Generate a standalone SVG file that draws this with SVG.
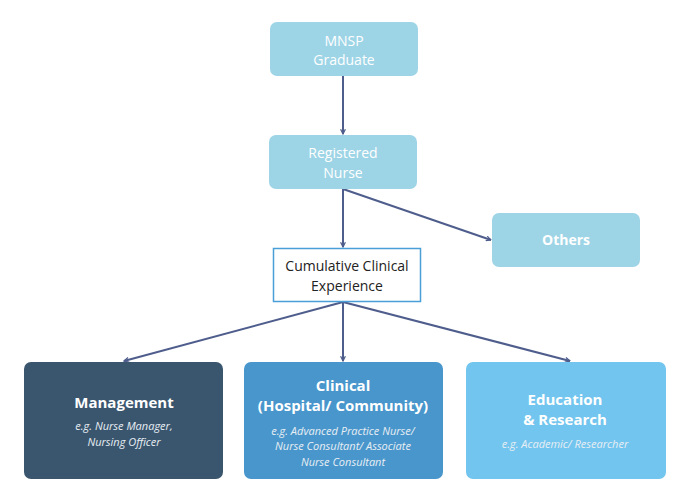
<svg xmlns="http://www.w3.org/2000/svg" width="689" height="500" viewBox="0 0 689 500">
<style>
text{font-family:"Open Sans","Noto Sans",sans-serif;text-anchor:middle}
.lt{fill:#9dd4e6}
.wt{fill:#ffffff;font-size:14px}
.b{font-weight:bold}
.h{fill:#ffffff;font-size:15px;font-weight:bold}
.i{fill:#e8eef4;font-size:11px;font-style:italic}
.c{stroke:#4e5d8c;stroke-width:2;fill:none;marker-end:url(#ah)}
</style>
<defs>
<marker id="ah" viewBox="0 0 10 10" refX="9" refY="5" markerWidth="6" markerHeight="6" markerUnits="userSpaceOnUse" orient="auto">
<path d="M1,1 L9,5 L1,9" fill="none" stroke="#4e5d8c" stroke-width="2"/>
</marker>
</defs>
<rect width="689" height="500" fill="#ffffff"/>
<g id="connectors">
<line class="c" x1="343" y1="76" x2="343" y2="134"/>
<line class="c" x1="343" y1="189" x2="343" y2="247"/>
<line class="c" x1="343" y1="189" x2="491" y2="240"/>
<line class="c" x1="343" y1="302" x2="124" y2="361"/>
<line class="c" x1="343" y1="302" x2="343" y2="361"/>
<line class="c" x1="343" y1="302" x2="570" y2="361"/>
</g>
<g id="mnsp">
<rect class="lt" x="270" y="22" width="148" height="54" rx="7"/>
<text class="wt" x="344" y="46">MNSP</text>
<text class="wt" x="344" y="65">Graduate</text>
</g>
<g id="rn">
<rect class="lt" x="269" y="135" width="148" height="54" rx="7"/>
<text class="wt" x="343" y="158">Registered</text>
<text class="wt" x="343" y="178">Nurse</text>
</g>
<g id="others">
<rect class="lt" x="492" y="213" width="148" height="54" rx="7"/>
<text class="wt b" x="566" y="245">Others</text>
</g>
<g id="cumulative">
<rect x="273.5" y="248.5" width="147" height="53" fill="#ffffff" stroke="#4a9fd6" stroke-width="1.5"/>
<text x="347" y="271" font-size="14" fill="#222222">Cumulative Clinical</text>
<text x="347" y="291" font-size="14" fill="#222222">Experience</text>
</g>
<g id="management">
<rect x="24" y="362" width="199" height="117" rx="7" fill="#3a566e"/>
<text class="h" x="124" y="408">Management</text>
<text class="i" x="124" y="430">e.g. Nurse Manager,</text>
<text class="i" x="124" y="446">Nursing Officer</text>
</g>
<g id="clinical">
<rect x="244" y="362" width="199" height="117" rx="7" fill="#4896cb"/>
<text class="h" x="343" y="391">Clinical</text>
<text class="h" x="343" y="411">(Hospital/ Community)</text>
<text class="i" x="343" y="435">e.g. Advanced Practice Nurse/</text>
<text class="i" x="343" y="450">Nurse Consultant/ Associate</text>
<text class="i" x="343" y="466">Nurse Consultant</text>
</g>
<g id="education">
<rect x="466" y="362" width="200" height="117" rx="7" fill="#72c5ee"/>
<text class="h" x="565" y="405">Education</text>
<text class="h" x="565" y="425">&amp; Research</text>
<text class="i" x="565" y="448">e.g. Academic/ Researcher</text>
</g>
</svg>
